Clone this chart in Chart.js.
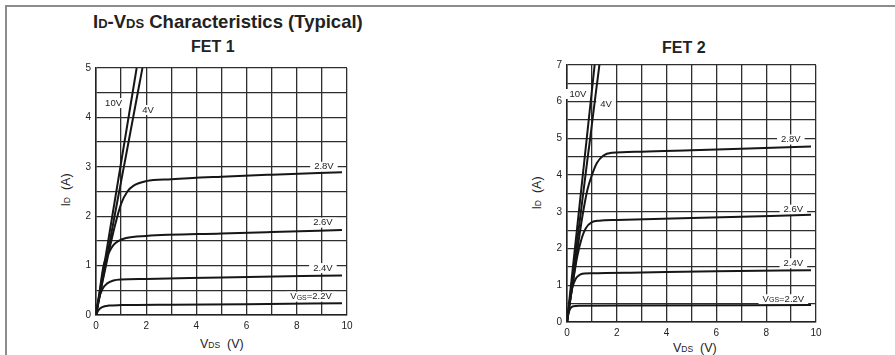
<!DOCTYPE html>
<html>
<head>
<meta charset="utf-8">
<script src="https://cdn.jsdelivr.net/npm/chart.js@4.4.1/dist/chart.umd.min.js"></script>
<style>
  html, body { margin: 0; padding: 0; background: #fff; }
  body { width: 895px; height: 355px; position: relative; overflow: hidden;
         font-family: "Liberation Sans", Arial, sans-serif; color: #222; }
  .frame { position: absolute; left: 5px; top: 5px; right: -10px; bottom: -10px;
           border-left: 2px solid #8c8c8c; border-top: 2px solid #8c8c8c; }
  .t { position: absolute; white-space: nowrap; line-height: 1; }
  .title { font-weight: bold; font-size: 18.5px; }
  .fet { font-weight: bold; font-size: 16px; }
  .ax { font-size: 12.5px; }
  .s { font-size: 8.5px; }
  .rot { transform: translate(-50%, -50%) rotate(-90deg); }
  canvas { position: absolute; top: 0; }
</style>
</head>
<body>
<div class="frame"></div>
<div class="t title" style="left:93px; top:13px;">I<span style="font-size:13px">D</span>-V<span style="font-size:13px">DS</span> Characteristics (Typical)</div>
<div class="t fet" style="left:191px; top:39px;">FET 1</div>
<div class="t fet" style="left:662px; top:40px;">FET 2</div>
<div class="t ax rot" style="left:66px; top:190px;">I<span class="s">D</span>&nbsp; (A)</div>
<div class="t ax rot" style="left:537px; top:193px;">I<span class="s">D</span>&nbsp; (A)</div>
<div class="t ax" style="left:200px; top:338px;">V<span class="s">DS</span>&nbsp; (V)</div>
<div class="t ax" style="left:673px; top:342px;">V<span class="s">DS</span>&nbsp; (V)</div>

<canvas id="fet1" width="450" height="355" style="left:0"></canvas>
<canvas id="fet2" width="445" height="355" style="left:450px"></canvas>

<script>
// ---- FET 1 curves: [VDS (V), ID (A)] ----
const fet1Vgs10 = [[0, 0], [1.62, 5]];
const fet1Vgs4 = [[0, 0], [1.85, 5]];
const fet1Vgs28 = [[0, 0], [0.25, 0.65], [0.5, 1.25], [0.75, 1.8], [1.0, 2.25], [1.25, 2.5], [1.5, 2.62], [2, 2.71], [3, 2.75], [5, 2.8], [7, 2.84], [9.8, 2.89]];
const fet1Vgs26 = [[0, 0], [0.15, 0.5], [0.3, 1.0], [0.5, 1.25], [0.7, 1.42], [0.9, 1.5], [1.2, 1.56], [2, 1.6], [5, 1.65], [7, 1.68], [9.8, 1.72]];
const fet1Vgs24 = [[0, 0], [0.1, 0.3], [0.25, 0.52], [0.45, 0.64], [0.7, 0.7], [1, 0.72], [2, 0.73], [5, 0.76], [9.8, 0.8]];
const fet1Vgs22 = [[0, 0], [0.1, 0.1], [0.25, 0.16], [0.5, 0.19], [1, 0.2], [3, 0.21], [6, 0.22], [9.8, 0.24]];

// ---- FET 2 curves ----
const fet2Vgs10 = [[0, 0], [1.11, 7]];
const fet2Vgs4 = [[0, 0], [1.3, 7]];
const fet2Vgs28 = [[0, 0], [0.3, 1.4], [0.6, 2.8], [0.82, 3.6], [1.0, 4.0], [1.2, 4.33], [1.45, 4.53], [1.8, 4.61], [3, 4.64], [5, 4.68], [7, 4.72], [9.8, 4.78]];
const fet2Vgs26 = [[0, 0], [0.2, 0.9], [0.4, 1.75], [0.6, 2.3], [0.75, 2.55], [1, 2.72], [1.3, 2.76], [2, 2.78], [5, 2.83], [9.8, 2.92]];
const fet2Vgs24 = [[0, 0], [0.1, 0.5], [0.2, 0.9], [0.35, 1.18], [0.5, 1.28], [0.7, 1.32], [1, 1.33], [3, 1.35], [6, 1.38], [9.8, 1.41]];
const fet2Vgs22 = [[0, 0], [0.05, 0.2], [0.12, 0.35], [0.25, 0.43], [0.5, 0.44], [2, 0.45], [9.8, 0.46]];

// curve labels: [text, VDS, ID] (anchor in data units)
const fet1Labels = [['10V', 0.70, 4.29], ['4V', 2.07, 4.15], ['2.8V', 9.08, 3.0], ['2.6V', 9.04, 1.87], ['2.4V', 9.04, 0.95], ['VGS=2.2V', 8.57, 0.37]];
const fet2Labels = [['10V', 0.44, 6.21], ['4V', 1.57, 5.92], ['2.8V', 8.99, 4.97], ['2.6V', 9.09, 3.06], ['2.4V', 9.09, 1.6], ['VGS=2.2V', 8.69, 0.62]];

const FONT = '"Liberation Sans", Arial, sans-serif';

function toPoints(arr) { return arr.map(p => ({ x: p[0], y: p[1] })); }

function curve(arr) {
  return {
    data: toPoints(arr),
    borderColor: '#161616',
    borderWidth: 2,
    pointRadius: 0,
    showLine: true,
    fill: false,
    cubicInterpolationMode: 'monotone',
  };
}

// white-boxed labels drawn over the grid, under the curves
const curveLabels = {
  id: 'curveLabels',
  beforeDatasetsDraw(chart, args, opts) {
    const ctx = chart.ctx;
    const xs = chart.scales.x, ys = chart.scales.y;
    ctx.save();
    ctx.textBaseline = 'middle';
    (opts.items || []).forEach(([txt, vx, vy]) => {
      const cx = xs.getPixelForValue(vx), cy = ys.getPixelForValue(vy);
      // split "VGS=..." into V + small GS + rest
      let parts = [[txt, 9.5]];
      if (txt.startsWith('VGS')) parts = [['V', 9.5], ['GS', 7], [txt.slice(3), 9.5]];
      let w = 0;
      parts.forEach(p => { ctx.font = p[1] + 'px ' + FONT; w += ctx.measureText(p[0]).width; });
      ctx.fillStyle = '#fff';
      ctx.fillRect(cx - w / 2 - 4, cy - 5, w + 8, 10);
      ctx.fillStyle = '#222';
      let x = cx - w / 2;
      parts.forEach(p => {
        ctx.font = p[1] + 'px ' + FONT;
        ctx.fillText(p[0], x, cy + (p[1] < 9 ? 1 : 0));
        x += ctx.measureText(p[0]).width;
      });
    });
    ctx.restore();
  }
};

function makeChart(id, curves, labels, yMax, pad) {
  return new Chart(document.getElementById(id), {
    type: 'scatter',
    data: { datasets: curves.map(curve) },
    options: {
      responsive: false,
      animation: false,
      events: [],
      layout: { padding: pad },
      plugins: { legend: { display: false }, tooltip: { enabled: false }, curveLabels: { items: labels } },
      scales: {
        x: {
          type: 'linear', min: 0, max: 10,
          afterFit(s) { s.height = 30; },
          ticks: { stepSize: 1, padding: 5, color: '#222', font: { family: FONT, size: 10 },
                   callback: v => (v % 2 === 0 ? String(v) : '') , maxRotation: 0, autoSkip: false },
          grid: { color: '#2e2e2e', lineWidth: 1.3, drawTicks: false },
          border: { color: '#222', width: 1.5 },
        },
        y: {
          type: 'linear', min: 0, max: yMax,
          afterFit(s) { s.width = 30; },
          ticks: { stepSize: 0.5, padding: 5, color: '#222', font: { family: FONT, size: 10 },
                   callback: v => (Number.isInteger(v) ? String(v) : ''), autoSkip: false },
          grid: { color: '#2e2e2e', lineWidth: 1.3, drawTicks: false },
          border: { color: '#222', width: 1.5 },
        },
      },
    },
    plugins: [curveLabels],
  });
}

makeChart('fet1', [fet1Vgs10, fet1Vgs4, fet1Vgs28, fet1Vgs26, fet1Vgs24, fet1Vgs22], fet1Labels, 5,
  { left: 66, right: 103, top: 68, bottom: 10 });
makeChart('fet2', [fet2Vgs10, fet2Vgs4, fet2Vgs28, fet2Vgs26, fet2Vgs24, fet2Vgs22], fet2Labels, 7,
  { left: 87, right: 79, top: 65, bottom: 3 });
</script>
</body>
</html>
